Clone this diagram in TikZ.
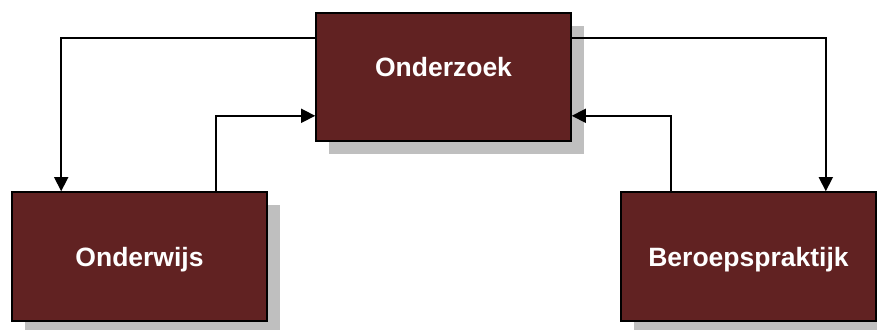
\documentclass[tikz,border=0pt]{standalone}
\usepackage{fontspec}
\setmainfont{Liberation Sans}
\usetikzlibrary{arrows.meta,shadows}
\definecolor{maroon}{HTML}{612222}

\begin{document}
\begin{tikzpicture}[x=1pt,y=1pt]
\tikzstyle{blok}=[draw=black, line width=1.6pt, fill=maroon, text=white,
  font=\fontsize{26.5}{30}\selectfont\bfseries, minimum width=255pt, minimum height=128pt,
  drop shadow={shadow xshift=13pt, shadow yshift=-13pt, fill=black!25, opacity=1}]
\tikzstyle{pijl}=[black, line width=1.6pt, -{Triangle[length=14pt,width=14pt]}]
\useasboundingbox (0,0) rectangle (877,-329);
\node [blok, text height=0pt, text depth=0pt] (onderzoek) at (443.5,-77) {Onderzoek};
\node [blok, minimum height=129pt, text height=19pt, text depth=0pt] (onderwijs) at (139.5,-256.5) {Onderwijs};
\node [blok, minimum height=129pt, text height=19pt, text depth=0pt] (beroeps) at (748.5,-256.5) {Beroepspraktijk};
\draw [pijl] ([yshift=-26pt]onderzoek.north west) -| ([xshift=50pt]onderwijs.north west);
\draw [pijl] ([xshift=-52pt]onderwijs.north east) |- ([yshift=26pt]onderzoek.south west);
\draw [pijl] ([yshift=-26pt]onderzoek.north east) -| ([xshift=-51pt]beroeps.north east);
\draw [pijl] ([xshift=51pt]beroeps.north west) |- ([yshift=26pt]onderzoek.south east);
\end{tikzpicture}
\end{document}
